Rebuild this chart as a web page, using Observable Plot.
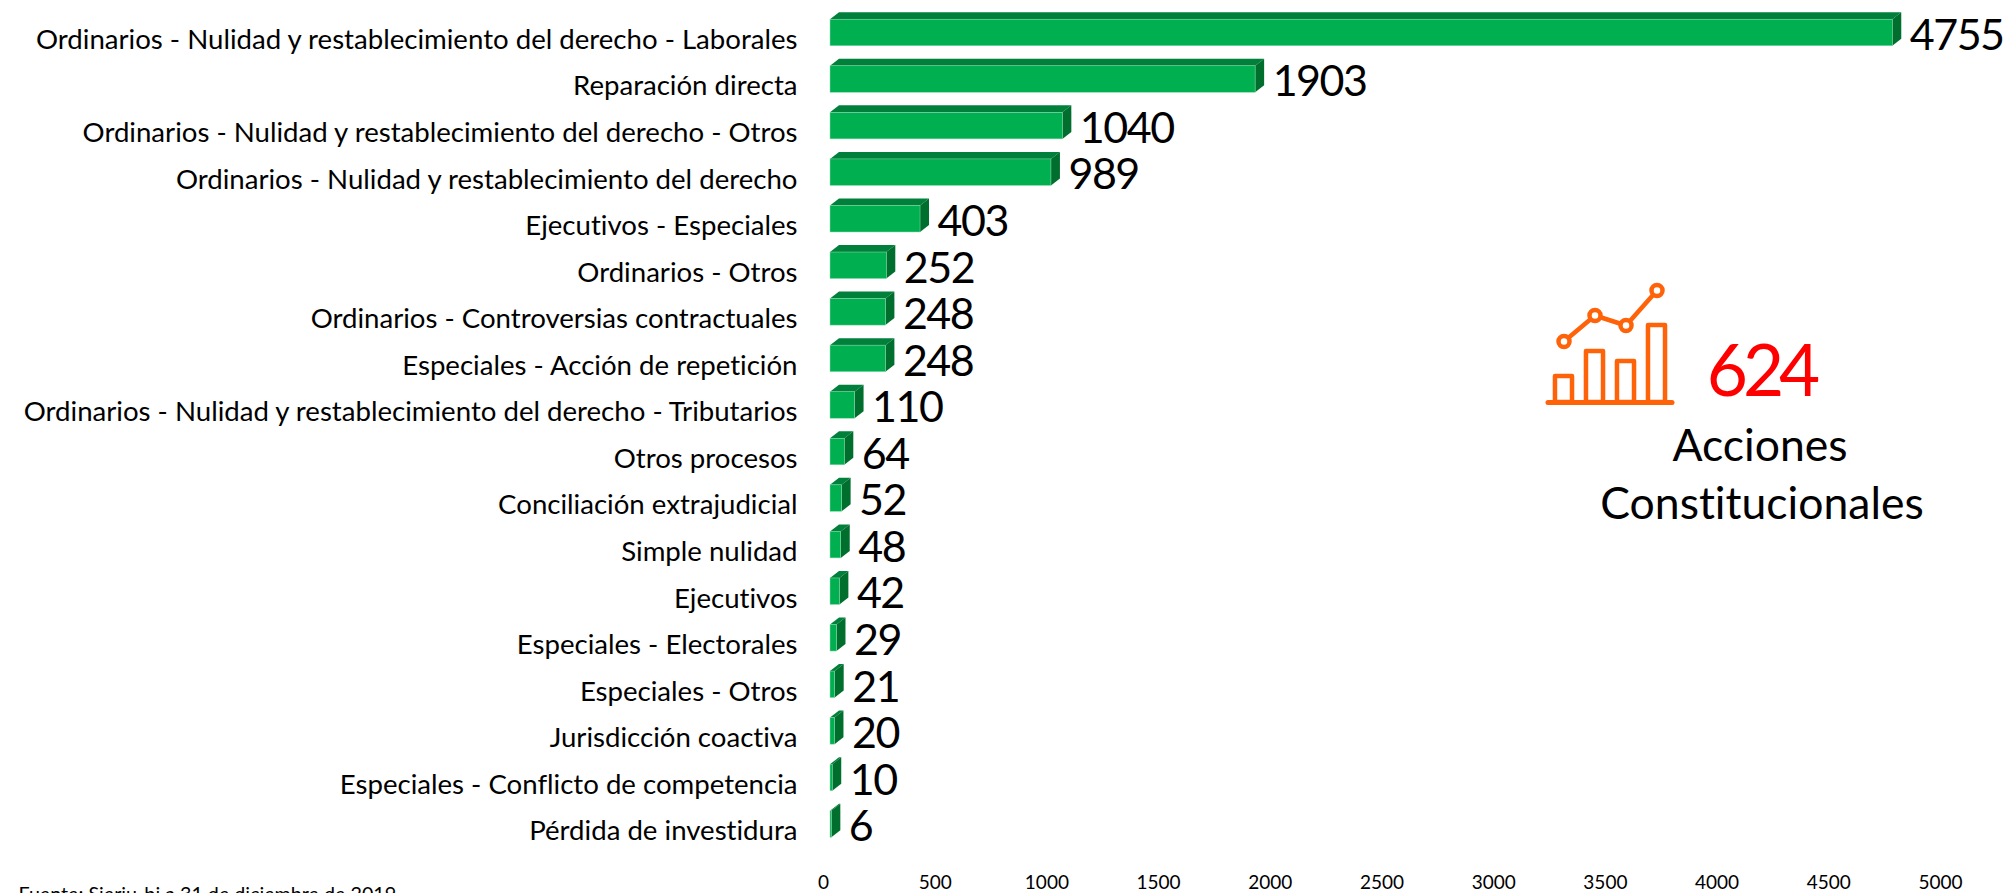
<!DOCTYPE html>
<html><head><meta charset="utf-8">
<script src="https://cdn.jsdelivr.net/npm/d3@7"></script>
<script src="https://cdn.jsdelivr.net/npm/@observablehq/plot@0.6"></script>
<style>
html,body{margin:0;padding:0;background:#fff;overflow:hidden;width:2007px;height:893px}
#wrap{position:relative;width:2007px;height:893px;overflow:hidden;font-family:Lato,sans-serif;font-variant-ligatures:none}
#wrap svg{font-family:Lato,sans-serif;font-variant-ligatures:none}
.t{position:absolute;white-space:nowrap;line-height:1;transform:translateX(-50%)}
.vals text{letter-spacing:-1.5px}
#icon{position:absolute;left:1540px;top:280px}
</style></head><body><div id="wrap"></div>
<script>
const categories=["Ordinarios - Nulidad y restablecimiento del derecho - Laborales","Reparación directa","Ordinarios - Nulidad y restablecimiento del derecho - Otros","Ordinarios - Nulidad y restablecimiento del derecho","Ejecutivos - Especiales","Ordinarios - Otros","Ordinarios - Controversias contractuales","Especiales - Acción de repetición","Ordinarios - Nulidad y restablecimiento del derecho - Tributarios","Otros procesos","Conciliación extrajudicial","Simple nulidad","Ejecutivos","Especiales - Electorales","Especiales - Otros","Jurisdicción coactiva","Especiales - Conflicto de competencia","Pérdida de investidura"];
const values=[4755,1903,1040,989,403,252,248,248,110,64,52,48,42,29,21,20,10,6];
const xTicks=[0,500,1000,1500,2000,2500,3000,3500,4000,4500,5000];
const source="Fuente: Sierju-bj a 31 de diciembre de 2019";
const kpiValue="624";
const kpiLabel=["Acciones","Constitucionales"];
const iconBars=[26,51,41,77];
const iconLine=[61,87,77,112];

const rows=categories.map((c,i)=>({c,v:values[i]}));
const depth={dx:9,dy:7};
function faces(index,{x,y}){
  const g=d3.create("svg:g");
  const bw=typeof y.bandwidth==="function"?y.bandwidth():y.bandwidth;
  for(const r of rows){
    const x0=x(0),x1=x(r.v),y0=y(r.c),y1=y0+bw,{dx,dy}=depth;
    g.append("path").attr("d",`M${x0},${y0}L${x0+dx},${y0-dy}L${x1+dx},${y0-dy}L${x1},${y0}Z`).attr("fill","#00803A");
    g.append("path").attr("d",`M${x1},${y0}L${x1+dx},${y0-dy}L${x1+dx},${y1-dy}L${x1},${y1}Z`).attr("fill","#006F2E");
  }
  return g.node();
}
const chart=Plot.plot({
  width:2007,height:893,marginLeft:830,marginRight:60,marginTop:0,marginBottom:36,
  style:{background:"#fff",color:"#000",fontFamily:"Lato,sans-serif"},
  x:{domain:[0,5000],axis:null},
  y:{domain:categories,range:[-0.8,857.3],padding:0.43,round:false,axis:null},
  marks:[
    faces,
    Plot.barX(rows,{x:"v",y:"c",fill:"#00B050",stroke:"#8FDCB0",strokeWidth:0.5}),
    Plot.axisY({anchor:"left",tickSize:0,tickPadding:33,dy:7,fontSize:27.6,label:null}),
    Plot.axisX(xTicks,{anchor:"bottom",tickSize:0,tickPadding:18,dx:-7,fontSize:19,label:null,tickFormat:d=>String(d)}),
    Plot.text(rows,{x:"v",y:"c",text:d=>String(d.v),textAnchor:"start",dx:17,dy:3,fontSize:43,fill:"#000",className:"vals"}),
    Plot.text([source],{frameAnchor:"bottom-left",dx:-812,dy:43,text:d=>d,textAnchor:"start",fontSize:19.7,fill:"#000"})
  ]
});
const wrap=document.getElementById("wrap");
wrap.append(chart);

const iconColor="#FF6309";
const iconRows=iconBars.map((h,i)=>({i,h,l:iconLine[i]}));
const icon=Plot.plot({
  width:140,height:130,margin:0,marginTop:2,marginBottom:8,marginLeft:8,marginRight:8,
  style:{background:"transparent",overflow:"visible"},
  x:{domain:[0,1,2,3],axis:null,paddingInner:0.45,paddingOuter:0.225,round:false},
  y:{domain:[0,120],axis:null},
  marks:[
    Plot.barY(iconRows,{x:"i",y:"h",fill:"none",stroke:iconColor,strokeWidth:4.5,strokeLinejoin:"round"}),
    Plot.ruleY([0],{stroke:iconColor,strokeWidth:5,strokeLinecap:"round"}),
    Plot.line(iconRows,{x:"i",y:"l",stroke:iconColor,strokeWidth:4.5}),
    Plot.dot(iconRows,{x:"i",y:"l",r:5.5,fill:"#fff",stroke:iconColor,strokeWidth:4.5})
  ]
});
icon.id="icon";
wrap.append(icon);

function addText(s,cx,top,size,color,ls){
  const d=document.createElement("div");
  d.className="t";d.textContent=s;
  d.style.cssText=`left:${cx}px;top:${top}px;font-size:${size}px;color:${color};letter-spacing:${ls||0}px`;
  wrap.append(d);
}
addText(kpiValue,1761,333,71,"#FF0000",-5);
addText(kpiLabel[0],1760,422,44.5,"#000");
addText(kpiLabel[1],1762,480,44.5,"#000");
</script></body></html>
